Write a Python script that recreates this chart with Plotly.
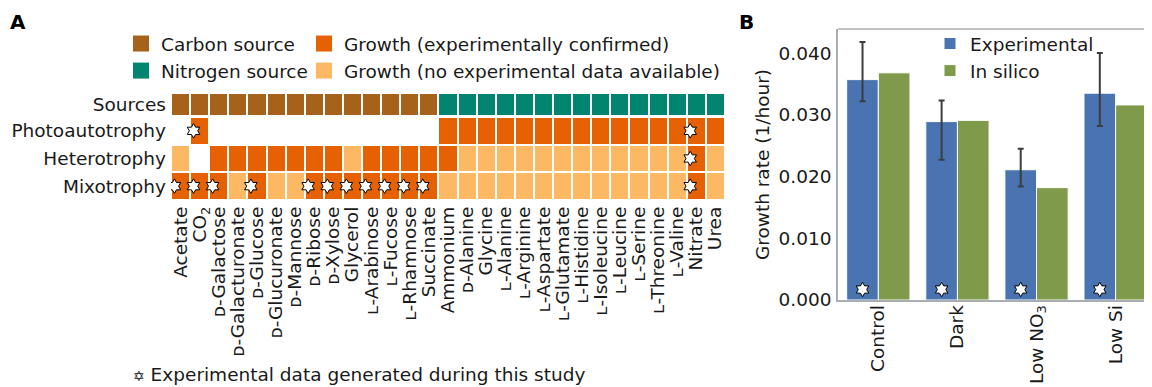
import plotly.graph_objects as go

# ---------------- Panel A data ----------------
carbon_sources = ["Acetate", "CO<sub>2</sub>", "ᴅ-Galactose", "ᴅ-Galacturonate", "ᴅ-Glucose",
                  "ᴅ-Glucuronate", "ᴅ-Mannose", "ᴅ-Ribose", "ᴅ-Xylose", "Glycerol",
                  "ʟ-Arabinose", "ʟ-Fucose", "ʟ-Rhamnose", "Succinate"]
nitrogen_sources = ["Ammonium", "ᴅ-Alanine", "Glycine", "ʟ-Alanine", "ʟ-Arginine", "ʟ-Aspartate",
                    "ʟ-Glutamate", "ʟ-Histidine", "ʟ-Isoleucine", "ʟ-Leucine", "ʟ-Serine",
                    "ʟ-Threonine", "ʟ-Valine", "Nitrate", "Urea"]
conditions = ["Photoautotrophy", "Heterotrophy", "Mixotrophy"]

# C = growth (experimentally confirmed), P = growth (no experimental data), - = none
photo_growth = list("-C------------" + "CCCCCCCCCCCCCCC")
hetero_growth = list("P-CCCCCCCPCCCC" + "CPPPPPPPPPPPPCP")
mixo_growth = list("CCCPCPPCCCCCCC" + "PPPPPPPPPPPPPCP")
# * = experimental data generated during this study
photo_star = list("-*------------" + "-------------*-")
hetero_star = list("--------------" + "-------------*-")
mixo_star = list("***-*--*******" + "-------------*-")

# ---------------- Panel B data ----------------
treatments = ["Control", "Dark", "Low NO<sub>3</sub>", "Low Si"]
experimental = [0.0357, 0.0289, 0.0211, 0.0335]
err_plus = [0.0061, 0.0034, 0.0034, 0.0065]
err_minus = [0.0035, 0.0062, 0.0027, 0.0053]
in_silico = [0.0368, 0.0291, 0.0182, 0.0316]
study_marker_y = [0.0017, 0.0017, 0.0017, 0.0017]

# ---------------- Styles ----------------
C_CARBON = "#A6611A"
C_NITRO = "#018571"
C_CONF = "#E66101"
C_PRED = "#FDB863"
C_EXP = "#4A73B1"
C_SIL = "#7E9A4A"
TXT = "#1a1a1a"
FONT = "DejaVu Sans"
FS = 18.5

# page body has an 8px margin; size the figure so it fits in the 1152x387 window
PAD = 8
W, H = 1152 - PAD, 387 - PAD
def px_x(p): return (p - PAD) / W
def px_y(p): return 1 - (p - PAD) / H

sources = carbon_sources + nitrogen_sources
source_kind = [0 for _ in carbon_sources] + [1 for _ in nitrogen_sources]
code = {"-": None, "P": 1, "C": 2}
growth_rows = [photo_growth, hetero_growth, mixo_growth]
star_rows = [photo_star, hetero_star, mixo_star]
z_growth = [[code[c] for c in row] for row in growth_rows]

star_x, star_y = [], []
for cond, row in zip(conditions, star_rows):
    for s, flag in zip(sources, row):
        if flag == "*":
            star_x.append(s)
            star_y.append(cond)

STAR = dict(symbol="hexagram", size=11, color="white", line=dict(color="black", width=1))

fig = go.Figure()

fig.add_trace(go.Heatmap(
    z=[source_kind], x=sources, y=["Sources"], xaxis="x", yaxis="y",
    colorscale=[[0, C_CARBON], [0.5, C_CARBON], [0.5, C_NITRO], [1, C_NITRO]],
    zmin=0, zmax=1, showscale=False, xgap=2, ygap=0, hoverinfo="skip"))

fig.add_trace(go.Heatmap(
    z=z_growth, x=sources, y=conditions, xaxis="x2", yaxis="y2",
    colorscale=[[0, C_PRED], [0.5, C_PRED], [0.5, C_CONF], [1, C_CONF]],
    zmin=1, zmax=2, showscale=False, xgap=2, ygap=2, hoverinfo="skip"))

fig.add_trace(go.Scatter(
    x=star_x, y=star_y, xaxis="x2", yaxis="y2", mode="markers",
    marker=STAR, showlegend=False, hoverinfo="skip"))

# Legend-only entries for panel A
for name, col, lg in [("Carbon source", C_CARBON, "legend2"), ("Nitrogen source", C_NITRO, "legend2"),
                      ("Growth (experimentally confirmed)", C_CONF, "legend3"),
                      ("Growth (no experimental data available)", C_PRED, "legend3")]:
    fig.add_trace(go.Scatter(x=[None], y=[None], mode="markers", name=name, legend=lg,
                             xaxis="x2", yaxis="y2",
                             marker=dict(symbol="square", size=18, color=col)))

# Panel B
fig.add_trace(go.Bar(
    x=treatments, y=experimental, name="Experimental", xaxis="x3", yaxis="y3",
    marker=dict(color=C_EXP, line=dict(color="white", width=1)), offsetgroup="exp",
    error_y=dict(type="data", symmetric=False, array=err_plus, arrayminus=err_minus,
                 color="#3d3d3d", thickness=2, width=3)))
fig.add_trace(go.Bar(
    x=treatments, y=in_silico, name="In silico", xaxis="x3", yaxis="y3",
    marker=dict(color=C_SIL, line=dict(color="white", width=1)), offsetgroup="sil"))
fig.add_trace(go.Scatter(
    x=treatments, y=study_marker_y, xaxis="x3", yaxis="y3", mode="markers", offsetgroup="exp",
    marker=STAR, showlegend=False, hoverinfo="skip"))

AX_GREY = "#A9AEB5"
fig.update_layout(
    template="none",
    width=W, height=H, margin=dict(l=0, r=0, t=0, b=0, autoexpand=False),
    paper_bgcolor="white", plot_bgcolor="white",
    font=dict(family=FONT, size=FS, color=TXT),
    barmode="group", bargap=0.2, bargroupgap=0, scattermode="group", scattergap=0.2,
    xaxis=dict(domain=[px_x(171), px_x(725)], anchor="y", showticklabels=False, ticks="",
               showgrid=False, zeroline=False, categoryorder="array", categoryarray=sources,
               automargin=False),
    yaxis=dict(domain=[px_y(115), px_y(94)], anchor="x", ticks="", showgrid=False,
               zeroline=False, tickfont=dict(size=FS), ticklabelstandoff=4, automargin=False),
    xaxis2=dict(domain=[px_x(171), px_x(725)], anchor="y2", matches="x", tickangle=-90,
                ticks="", showgrid=False, zeroline=False, tickfont=dict(size=FS),
                categoryorder="array", categoryarray=sources, tickmode="array",
                tickvals=sources, ticktext=sources, ticklabelstandoff=2, automargin=False),
    yaxis2=dict(domain=[px_y(200), px_y(117)], anchor="x2", autorange="reversed", ticks="",
                showgrid=False, zeroline=False, tickfont=dict(size=FS), ticklabelstandoff=4,
                automargin=False),
    xaxis3=dict(domain=[px_x(838), 1.0], anchor="y3", range=[-0.51, 3.46], tickangle=-90,
                ticks="", showgrid=False, zeroline=False, showline=True, linecolor=AX_GREY,
                linewidth=1.5, tickfont=dict(size=FS), ticklabelstandoff=-4, automargin=False),
    yaxis3=dict(domain=[px_y(300), px_y(29)], anchor="x3", range=[0, 0.0439],
                tickvals=[0, 0.01, 0.02, 0.03, 0.04], tickformat=".3f", ticks="",
                showgrid=False, zeroline=False, showline=True, linecolor=AX_GREY, linewidth=1.5,
                tickfont=dict(size=FS), ticklabelstandoff=1, automargin=False,
                title=dict(text="Growth rate (1/hour)", font=dict(size=FS), standoff=4)),
    legend=dict(x=px_x(930), y=px_y(25), xanchor="left", yanchor="top",
                bgcolor="rgba(0,0,0,0)", font=dict(size=FS), tracegroupgap=0,
                itemwidth=30),
    legend2=dict(x=px_x(121), y=px_y(25), xanchor="left", yanchor="top",
                 bgcolor="rgba(0,0,0,0)", font=dict(size=FS)),
    legend3=dict(x=px_x(304), y=px_y(25), xanchor="left", yanchor="top",
                 bgcolor="rgba(0,0,0,0)", font=dict(size=FS)),
    shapes=[dict(type="line", xref="x3 domain", yref="y3 domain", x0=0, x1=1, y0=1, y1=1,
                 line=dict(color=AX_GREY, width=1.5))],
    annotations=[
        dict(text="<b>A</b>", x=px_x(8), y=px_y(22), xref="paper", yref="paper",
             xanchor="left", yanchor="middle", showarrow=False, font=dict(size=20, color="black")),
        dict(text="<b>B</b>", x=px_x(737), y=px_y(22), xref="paper", yref="paper",
             xanchor="left", yanchor="middle", showarrow=False, font=dict(size=20, color="black")),
        dict(text="<span style='font-size:14px'>✡</span> Experimental data generated during this study",
             x=px_x(131), y=0, xref="paper", yref="paper", xanchor="left",
             yanchor="bottom", showarrow=False, font=dict(size=FS)),
    ],
)

fig.write_html("out.html")
